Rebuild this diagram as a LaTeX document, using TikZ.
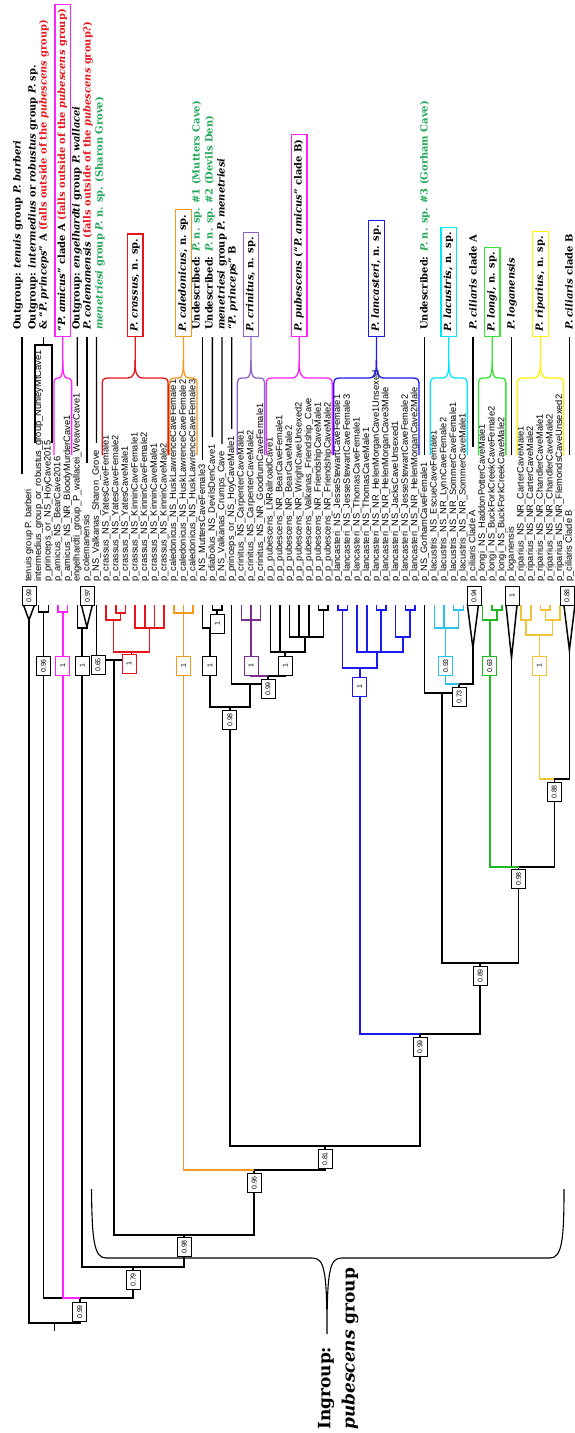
\documentclass[tikz,border=0pt]{standalone}
\usepackage{fontspec}
\setmainfont{DejaVu Serif}
\newfontfamily\labfont{Liberation Sans}
\usetikzlibrary{calc}
\definecolor{magC}{HTML}{FF22FF}
\definecolor{redC}{HTML}{E8141C}
\definecolor{orgC}{HTML}{F39A1E}
\definecolor{purT}{HTML}{7B2D8E}
\definecolor{purB}{HTML}{8B63C6}
\definecolor{bluC}{HTML}{1A1AEE}
\definecolor{cyaT}{HTML}{2AC3EB}
\definecolor{cyaB}{HTML}{00E6FF}
\definecolor{grnT}{HTML}{22B822}
\definecolor{grnB}{HTML}{33E633}
\definecolor{golT}{HTML}{F2C23C}
\definecolor{yelB}{HTML}{FFF200}
\definecolor{grnX}{HTML}{1FA858}
\tikzset{
 br/.style={line width=1.5pt},
 tiplab/.style={rotate=90, anchor=west, inner sep=0pt, font=\labfont\fontsize{9.3}{10}\selectfont},
 ann/.style={rotate=90, anchor=west, inner sep=0pt, font=\bfseries\fontsize{9.9}{11}\selectfont},
 annbox/.style={ann, draw, fill=white, line width=1.3pt, inner xsep=5pt, inner ysep=3pt, text height=7.2pt, text depth=2.4pt},
 conn/.style={line width=1.3pt},
 supbox/.style={draw, fill=white, line width=0.9pt, rotate=90, inner sep=0pt, minimum width=18.5pt, minimum height=14pt, font=\labfont\fontsize{7}{7}\selectfont},
}
\newcommand\gbrace[6]{%
 \draw[#1, line width=1.3pt] (#2,337) -- (#2,360) .. controls (#2,373) and ({#2-1},378) .. ({#2-#5},378) -- ({#3+#6},378) .. controls ({#3+1},378) and (#3,380) .. (#3,{378+#6}) -- (#3,455);
 \draw[#1, line width=1.3pt] (#2,360) .. controls (#2,373) and ({#2+1},378) .. ({#2+#5},378) -- ({#4-#6},378) .. controls ({#4-1},378) and (#4,380) .. (#4,{378+#6}) -- (#4,455);
}
\begin{document}
\begin{tikzpicture}[x=1pt,y=-1pt]
\useasboundingbox (0,0) rectangle (574,1433);
\fill[white] (0,0) rectangle (574,1433);

% ---------- tips ----------
\foreach \i in {0,...,56}{\coordinate (t\i) at ({29+9.65*\i},605);}
\coordinate (a0) at (29,620);
\coordinate (a6) at (86.9,627);
\coordinate (a46) at (472.9,648);
\coordinate (a50) at (511.5,658);
\coordinate (a56) at (569.4,650);

% ---------- internal nodes ----------
\coordinate (nip) at (43.5,612);
\coordinate (nam) at (62.8,612);
\coordinate (nec) at (82.1,628);
\coordinate (nYp) at (120.7,613);
\coordinate (nY) at (113.45,620);
\coordinate (nK) at (149.6,628);
\coordinate (ncr) at (131.5,652);
\coordinate (n65) at (114.0,660);
\coordinate (ncal) at (183.4,613);
\coordinate (ndc) at (217.2,610);
\coordinate (nmdc) at (209.9,628);
\coordinate (ncrin) at (250.95,620);
\coordinate (npubFF) at (323.3,610);
\coordinate (npub2) at (305.2,637);
\coordinate (npub) at (285.1,652);
\coordinate (nH) at (268.0,676);
\coordinate (nG) at (249.8,684);
\coordinate (nF) at (229.9,707);
\coordinate (nl1) at (342.6,610);
\coordinate (nl2) at (381.2,610);
\coordinate (nl3) at (410.2,610);
\coordinate (nl4) at (403.0,637);
\coordinate (nl5) at (377.0,652);
\coordinate (nlan) at (359.8,668);
\coordinate (nlc1) at (458.4,610);
\coordinate (nlac) at (445.6,628);
\coordinate (nL) at (459.2,684);
\coordinate (nK2) at (441.9,693);
\coordinate (nlo1) at (497.0,610);
\coordinate (nlongi) at (489.8,620);
\coordinate (nr1) at (526.0,620);
\coordinate (nr2) at (545.3,610);
\coordinate (nr3) at (552.5,620);
\coordinate (nrip) at (539.3,635);
\coordinate (nN) at (554.3,779);
\coordinate (nM) at (518.5,867);
\coordinate (nJ) at (480.2,963);
\coordinate (nI) at (420.0,1034);
\coordinate (nE) at (325.0,1146);
\coordinate (nD) at (254.2,1170);
\coordinate (nC) at (184.1,1235);
\coordinate (nB) at (133.1,1267);
\coordinate (nA) at (79.8,1298);
\coordinate (root) at (54.4,1323);
\coordinate (rootstub) at (54.4,1331);

% ---------- black branches ----------
\foreach \c/\p in {t1/nip,t2/nip,nip/nA,t5/nec,a6/nec,nec/nB,t7/n65,ncr/n65,n65/nC,
 t19/ndc,t20/ndc,t18/nmdc,ndc/nmdc,nmdc/nF,t21/nG,nH/nG,nG/nF,nF/nE,
 t30/npubFF,t31/npubFF,t27/npub2,t28/npub2,t29/npub2,npubFF/npub2,t25/npub,t26/npub,npub2/npub,npub/nH,
 nI/nE,nE/nD,nD/nC,nC/nB,nB/nA,nA/root,a0/root,
 t41/nK2,nL/nK2,a46/nL,nK2/nJ,nM/nJ,nJ/nI,a50/nM,nN/nM,a56/nN}
 {\draw[br] (\c) |- (\p);}
\draw[br] (root) -- (rootstub);
% ---------- coloured branches ----------
\foreach \c/\p in {t3/nam,t4/nam,nam/nA}{\draw[br,magC] (\c) |- (\p);}
\foreach \c/\p in {t8/nY,t9/nYp,t10/nYp,nYp/nY,nY/ncr,t11/nK,t12/nK,t13/nK,t14/nK,nK/ncr}{\draw[br,redC] (\c) |- (\p);}
\foreach \c/\p in {t15/ncal,t16/ncal,t17/ncal,ncal/nD}{\draw[br,orgC] (\c) |- (\p);}
\foreach \c/\p in {t22/ncrin,t23/ncrin,t24/ncrin,ncrin/nH}{\draw[br,purT] (\c) |- (\p);}
\foreach \c/\p in {t32/nl1,t33/nl1,t36/nl2,t37/nl2,t39/nl3,t40/nl3,t38/nl4,nl3/nl4,t34/nl5,t35/nl5,nl2/nl5,nl4/nl5,nl1/nlan,nl5/nlan,nlan/nI}{\draw[br,bluC] (\c) |- (\p);}
\foreach \c/\p in {t44/nlc1,t45/nlc1,t42/nlac,t43/nlac,nlc1/nlac,nlac/nL}{\draw[br,cyaT] (\c) |- (\p);}
\foreach \c/\p in {t48/nlo1,t49/nlo1,t47/nlongi,nlo1/nlongi,nlongi/nM}{\draw[br,grnT] (\c) |- (\p);}
\foreach \c/\p in {t51/nr1,t52/nr1,t53/nr2,t54/nr2,nr2/nr3,t55/nr3,nr1/nrip,nr3/nrip,nrip/nN}{\draw[br,golT] (\c) |- (\p);}

% collapsed clades
\foreach \a/\tt in {a0/t0,a6/t6,a46/t46,a50/t50,a56/t56}
 {\draw[br,line join=miter,fill=white] ($(\tt)+(-5.5,0)$) -- ($(\tt)+(5.5,0)$) -- (\a) -- cycle;}

% ---------- support values ----------
\node[supbox] (s0) at (29,596) {0.99};
\node[supbox] (s6) at (87.5,596) {0.97};
\node[supbox] (s46) at (474,596) {0.94};
\node[supbox] (s50) at (512,596) {1};
\node[supbox] (s56) at (567,596) {0.88};
\node[supbox] (sip) at (43.5,666) {0.96};
\node[supbox,draw=magC] (sam) at (62.8,666) {1};
\node[supbox] (sec) at (82.1,666) {1};
\node[supbox] (s65) at (98,665) {0.65};
\node[supbox,draw=redC] (scr) at (129,664) {1};
\node[supbox,draw=orgC] (scal) at (183.4,666) {1};
\node[supbox] (sdc) at (217.2,624) {1};
\node[supbox] (smdc) at (209.9,666) {1};
\node[supbox,draw=purT] (scrin) at (250.95,666) {1};
\node[supbox] (spub) at (285.1,666) {1};
\node[supbox] (sH) at (268,689) {0.99};
\node[supbox] (sF) at (229.9,720) {0.98};
\node[supbox,draw=bluC] (slan) at (359.8,687) {1};
\node[supbox,draw=cyaT] (slac) at (445.6,666) {0.93};
\node[supbox] (sL) at (459.2,697) {0.73};
\node[supbox,draw=grnT] (slongi) at (489.8,666) {0.63};
\node[supbox,draw=golT] (srip) at (539.3,666) {1};
\node[supbox] (sN) at (554.3,792) {0.88};
\node[supbox] (sM) at (518.5,879) {0.98};
\node[supbox] (sJ) at (480.2,976) {0.89};
\node[supbox] (sI) at (420,1047) {0.99};
\node[supbox] (sE) at (325,1159) {0.81};
\node[supbox] (sD) at (254.2,1183) {0.96};
\node[supbox] (sC) at (184.1,1247) {0.98};
\node[supbox] (sB) at (133.1,1280) {0.79};
\node[supbox] (sA) at (79.8,1312) {0.99};

% ---------- tip labels ----------
\foreach \i/\ltxt in {
0/tenuis group P. barberi,
1/intermedius\_group\_or\_robustus\_group\_NunleyMtCave1,
2/p\_princeps\_or\_NS\_HoyCave2015,
3/p\_amicus\_NS\_BearCave2016,
4/p\_amicus\_NS\_NR\_BloodyMurderCave1,
5/engelhardti\_group\_P\_wallacei\_WeaverCave1,
6/p\_colemanensis,
7/p\_NS\_Valkanas\_Sharon\_Grove,
8/p\_crassus\_NS\_YatesCaveFemale1,
9/p\_crassus\_NS\_YatesCaveFemale2,
10/p\_crassus\_NS\_YatesCaveMale1,
11/p\_crassus\_NS\_KinninCaveFemale1,
12/p\_crassus\_NS\_KinninCaveFemale2,
13/p\_crassus\_NS\_KinninCaveMale1,
14/p\_crassus\_NS\_KinninCaveMale2,
15/p\_caledonicus\_NS\_HuskLawrenceCaveFemale1,
16/p\_caledonicus\_NS\_HuskLawrenceCaveFemale2,
17/p\_caledonicus\_NS\_HuskLawrenceCaveFemale3,
18/p\_NS\_MuttersCaveFemale3,
19/p\_diabolus\_NS\_DevilsDenCave1,
20/p\_NS\_Valkanas\_Crumps\_Cave,
21/p\_princeps\_or\_NS\_HoyCaveMale1,
22/p\_crinitus\_NS\_CarpenterCaveMale1,
23/p\_crinitus\_NS\_CarpenterCaveMale2,
24/p\_crinitus\_NS\_NR\_GoodrumCaveFemale1,
25/p\_p\_pubescens\_LNRailroadCave1,
26/p\_p\_pubescens\_NR\_BearCaveFemale1,
27/p\_p\_pubescens\_NR\_BearCaveMale2,
28/p\_p\_pubescens\_NR\_WrightCaveUnsexed2,
29/p\_p\_pubescens\_Valkanas\_Friendship\_Cave,
30/p\_p\_pubescens\_NR\_FriendshipCaveMale1,
31/p\_p\_pubescens\_NR\_FriendshipCaveMale2,
32/p\_lancasteri\_NS\_JesseStewartCaveFemale1,
33/p\_lancasteri\_NS\_JesseStewartCaveFemale3,
34/p\_lancasteri\_NS\_ThomasCaveFemale1,
35/p\_lancasteri\_NS\_ThomasCaveMale1,
36/p\_lancasteri\_NS\_NR\_HelenMorganCave1Unsexed,
37/p\_lancasteri\_NS\_NR\_HelenMorganCave3Male,
38/p\_lancasteri\_NS\_JacksCaveUnsexed1,
39/p\_lancasteri\_NS\_JesseStewartCaveFemale2,
40/p\_lancasteri\_NS\_NR\_HelenMorganCave2Male,
41/p\_NS\_GorhamCaveFemale1,
42/p\_lacustris\_NS\_EscueCaveFemale1,
43/p\_lacustris\_NS\_NR\_LynnCaveFemale2,
44/p\_lacustris\_NS\_NR\_SommerCaveFemale1,
45/p\_lacustris\_NS\_NR\_SommerCaveMale1,
46/p\_ciliaris Clade A,
47/p\_longi\_NS\_HaddonPotterCaveMale1,
48/p\_longi\_NS\_BuckForkCreekCaveFemale2,
49/p\_longi\_NS\_BuckForkCreekCaveMale2,
50/p\_loganensis,
51/p\_riparius\_NS\_NR\_CarterCaveMale1,
52/p\_riparius\_NS\_NR\_CarterCaveMale2,
53/p\_riparius\_NS\_NR\_ChandlerCaveMale1,
54/p\_riparius\_NS\_NR\_ChandlerCaveMale2,
55/p\_riparius\_NS\_NR\_FlemondsCaveUnsexed2,
56/p\_ciliaris Clade B}
{\node[tiplab] (L\i) at ({29+9.65*\i},582) {\ltxt};}

% ---------- annotations ----------
\node[ann] (A0) at (18,330) {Outgroup: \textit{tenuis} group \textit{P. barberi}};
\node[ann] (A1) at (33,330) {Outgroup: \textit{intermedius} or \textit{robustus} group \textit{P.} sp.};
\node[ann] (A2) at (44,330) {\& “\textit{P. princeps}” A \textcolor{redC}{(falls outside of the \textit{pubescens} group)}};
\node[annbox,draw=magC] (B3) at (62.8,337) {“\textit{P. amicus}” clade A \textcolor{redC}{(falls outside of the \textit{pubescens} group)}};
\node[ann] (A5) at (77,330) {Outgroup: \textit{engelhardti} group \textit{P. wallacei}};
\node[ann] (A6) at (88,330) {\textit{P. colemanensis} \textcolor{redC}{(falls outside of the \textit{pubescens} group?)}};
\node[ann,text=grnX] (A7) at (100,330) {\textit{menetriesi} group \textit{P.} n. sp. (Sharon Grove)};
\node[annbox,draw=redC] (B8) at (135.15,337) {\textit{P. crassus}, n. sp.};
\node[annbox,draw=orgC] (B15) at (183.4,337) {\textit{P. caledonicus}, n. sp.};
\node[ann] (A18) at (197,330) {Undescribed: \textcolor{grnX}{\textit{P.} n. sp. \#1 (Mutters Cave)}};
\node[ann] (A19) at (210,330) {Undescribed: \textcolor{grnX}{\textit{P.} n. sp. \#2 (Devils Den)}};
\node[ann] (A20) at (222,330) {\textit{menetriesi} group \textit{P. menetriesi}};
\node[ann] (A21) at (233,330) {“\textit{P. princeps}” B};
\node[annbox,draw=purB] (B22) at (250.95,337) {\textit{P. crinitus}, n. sp.};
\node[annbox,draw=magC] (B25) at (299.2,337) {\textit{P. pubescens} (“\textit{P. amicus}” clade B)};
\node[annbox,draw=bluC] (B32) at (376.4,337) {\textit{P. lancasteri}, n. sp.};
\node[ann] (A41) at (425,330) {Undescribed: \textcolor{grnX}{\textit{P.} n. sp. \#3 (Gorham Cave)}};
\node[annbox,draw=cyaB] (B42) at (448.8,337) {\textit{P. lacustris}, n. sp.};
\node[ann] (A46) at (473,330) {\textit{P. ciliaris} clade A};
\node[annbox,draw=grnB] (B47) at (492.2,337) {\textit{P. longi}, n. sp.};
\node[ann] (A50) at (512,330) {\textit{P. loganensis}};
\node[annbox,draw=yelB] (B51) at (540.45,337) {\textit{P. riparius}, n. sp.};
\node[ann] (A56) at (569,330) {\textit{P. ciliaris} clade B};

% braces from boxes to their tips
\gbrace{magC}{62.8}{53.95}{71.6}{4}{4}
\gbrace{redC}{135.15}{102.2}{168.1}{8}{6}
\gbrace{orgC}{183.4}{169.75}{197.05}{5}{5}
\gbrace{purB}{250.95}{237.3}{264.6}{5}{5}
\gbrace{magC}{299.2}{266.25}{332.15}{8}{6}
\gbrace{bluC}{376.4}{333.8}{419}{8}{6}
\gbrace{cyaB}{448.8}{430.3}{467.25}{6}{5}
\gbrace{grnB}{492.2}{478.55}{505.85}{5}{5}
\gbrace{yelB}{540.45}{517.15}{563.75}{7}{6}

% black connectors from annotations to labels
\coordinate (c0) at (22,337);
\draw[conn] (c0) -- (22,474);
\coordinate (cib) at (43.5,337);
\draw[conn] (cib) -- (43.5,345);
\draw[conn] (35,443) -- (35,345) -- (52,345) -- (52,443);
\draw[conn,shorten >=7pt] (77.25,337) -- (L5.east);
\draw[conn] (86.9,337) -- (86.9,463);
\draw[conn,shorten >=7pt] (96.55,337) -- (L7.east);
\draw[conn] (202.7,337) -- (202.7,460);
\draw[conn,shorten >=7pt] (212.35,337) -- (L19.east);
\draw[conn,shorten >=7pt] (222,337) -- (L20.east);
\draw[conn,shorten >=7pt] (231.65,337) -- (L21.east);
\draw[conn] (424.65,337) -- (424.65,455);
\draw[conn] (472.9,337) -- (472.9,447);
\draw[conn] (511.5,337) -- (511.5,455);
\draw[conn] (569.4,337) -- (569.4,455);

% ---------- ingroup brace ----------
\draw[line width=1.1pt] (91.5,1189) .. controls (92,1240) and (94,1258) .. (106,1258) -- (312,1258)
 .. controls (324,1258) and (327,1268) .. (327,1334)
 .. controls (327,1268) and (330,1258) .. (342,1258) -- (550,1258)
 .. controls (562,1258) and (564,1240) .. (564,1189);
\node[rotate=90, anchor=west, inner sep=0pt, font=\bfseries\fontsize{17}{19}\selectfont] (ing1) at (326,1430) {Ingroup:};
\node[rotate=90, anchor=west, inner sep=0pt, font=\bfseries\fontsize{17}{19}\selectfont] (ing2) at (350,1430) {\textit{pubescens} group};
\end{tikzpicture}
\end{document}
